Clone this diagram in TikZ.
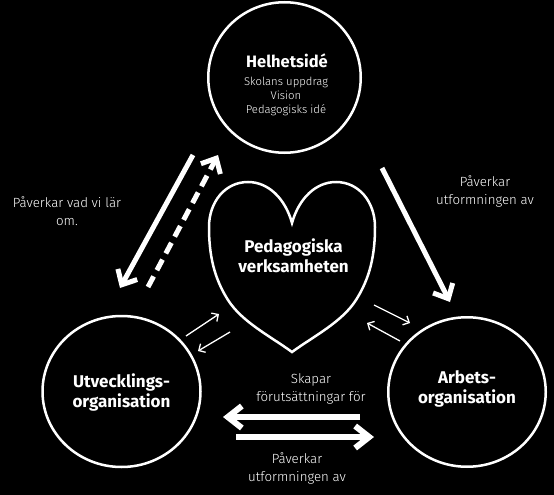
\documentclass[tikz,border=0pt]{standalone}
\usepackage{fontspec}
\setmainfont{Fira Sans}
\IfFontExistsTF{Fira Sans Light}
  {\newfontfamily\lightfont{Fira Sans Light}}
  {\newfontfamily\lightfont{Fira Sans}}
\usetikzlibrary{arrows.meta,shapes.geometric}
\begin{document}
\begin{tikzpicture}[x=1pt,y=-1pt,
  ring/.style={draw=white,line width=2.5pt,ellipse,inner sep=0pt},
  bigtext/.style={text=white,font=\bfseries\fontsize{17}{20}\selectfont,align=center,inner sep=0pt},
  lbl/.style={text=white,font=\lightfont\fontsize{13.3}{18}\selectfont,align=center,inner sep=0pt},
  thick arrow/.style={draw=white,line width=5pt,-{Straight Barb[sharp,length=12pt,width=22pt]}},
  wide arrow/.style={draw=white,line width=6pt,-{Straight Barb[sharp,length=14pt,width=22pt]}},
  thin arrow/.style={draw=white,line width=1.3pt,-{Straight Barb[sharp,length=5pt,width=10pt]}},
  heartline/.style={draw=white,line width=2.5pt,line join=miter}
]
\fill[black] (0,0) rectangle (554,495);
\useasboundingbox (0,0) rectangle (554,495);

% circles
\node[ring,minimum width=152.5pt,minimum height=150.5pt] (top) at (284.5,77.5) {};
\node[ring,minimum width=158pt,minimum height=151pt] (left) at (121.5,391.5) {};
\node[ring,minimum width=157.5pt,minimum height=149.5pt] (right) at (467,392) {};

% heart
\draw[heartline] (292,223)
  .. controls (285,198) and (268,182) .. (248,182)
  .. controls (225,182) and (209,202) .. (209,227)
  .. controls (209,255) and (214,278) .. (228,300)
  .. controls (242,322) and (270,336) .. (292,352)
  .. controls (314,336) and (342,322) .. (356,300)
  .. controls (370,278) and (375,255) .. (375,227)
  .. controls (375,202) and (359,182) .. (336,182)
  .. controls (316,182) and (299,198) .. (292,223) -- cycle;

% texts
\node[text=white,inner sep=0pt,align=center,font=\bfseries\fontsize{16.5}{19}\selectfont] (toptitle) at (287,61) {Helhetsidé};
\node[lbl,font=\lightfont\fontsize{11.3}{14}\selectfont] (toptext) at (286,96) {Skolans uppdrag\\Vision\\Pedagogisks idé};
\node[bigtext] (hearttext) at (293.5,256) {Pedagogiska\\verksamheten};
\node[bigtext] (lefttext) at (121.5,392) {Utvecklings-\\organisation};
\node[bigtext] (righttext) at (467,388.5) {Arbets-\\organisation};

\node[lbl] (l1) at (67,211) {Påverkar vad vi lär\\om.};
\node[lbl] (l2) at (485,191) {Påverkar\\utformningen av};
\node[lbl] (l3) at (311,388.5) {Skapar\\förutsättningar för};
\node[lbl] (l4) at (297,468) {Påverkar\\utformningen av};

% arrow end points
\coordinate (a1s) at (193,155);
\coordinate (a1e) at (120,288);
\coordinate (a2s) at (148,287);
\coordinate (a2e) at (218,155);
\coordinate (a3s) at (382,168);
\coordinate (a3e) at (450,302);
\coordinate (b1s) at (360,417);
\coordinate (b1e) at (223,417);
\coordinate (b2s) at (236,437);
\coordinate (b2e) at (374,437);
\coordinate (s1s) at (186,336);
\coordinate (s1e) at (219,314);
\coordinate (s2s) at (230,332);
\coordinate (s2e) at (198,351);
\coordinate (s3s) at (374,305);
\coordinate (s3e) at (410,323);
\coordinate (s4s) at (400,341);
\coordinate (s4e) at (367,323);

\draw[thick arrow] (a1s) -- (a1e);
\draw[thick arrow,dash pattern=on 12pt off 7pt] (a2s) -- (a2e);
\draw[thick arrow] (a3s) -- (a3e);
\draw[wide arrow] (b1s) -- (b1e);
\draw[wide arrow] (b2s) -- (b2e);
\draw[thin arrow] (s1s) -- (s1e);
\draw[thin arrow] (s2s) -- (s2e);
\draw[thin arrow] (s3s) -- (s3e);
\draw[thin arrow] (s4s) -- (s4e);
\end{tikzpicture}
\end{document}
